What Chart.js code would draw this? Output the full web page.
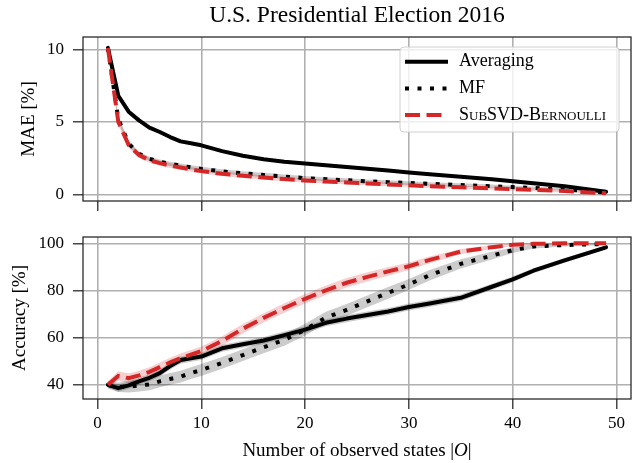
<!DOCTYPE html>
<html>
<head>
<meta charset="utf-8">
<script src="https://cdn.jsdelivr.net/npm/chart.js@4"></script>
<style>
  html, body { margin: 0; padding: 0; background: #fff; }
  #wrap { position: relative; width: 641px; height: 463px; }
  #maeCanvas { position: absolute; left: 0; top: 0; }
  #accCanvas { position: absolute; left: 0; top: 215px; }
</style>
</head>
<body>
<div id="wrap">
  <canvas id="maeCanvas" width="641" height="215"></canvas>
  <canvas id="accCanvas" width="641" height="248"></canvas>
</div>
<script>
// Number of observed states |O|
const observed = [1,2,3,4,5,6,7,8,9,10,12,14,16,18,20,22,24,26,28,30,32,35,38,40,42,45,49];

// Mean absolute error [%]
const maeAveraging = [10.1,6.8,5.7,5.1,4.6,4.3,3.95,3.65,3.52,3.38,2.98,2.66,2.42,2.25,2.12,2.0,1.88,1.76,1.64,1.5,1.39,1.22,1.04,0.9,0.76,0.55,0.18];
const maeMF        = [10.1,5.2,3.5,2.8,2.45,2.25,2.1,1.98,1.86,1.75,1.58,1.45,1.33,1.22,1.12,1.04,0.97,0.9,0.84,0.78,0.72,0.64,0.56,0.5,0.44,0.34,0.12];
const maeSubSVD    = [10.1,5.0,3.4,2.7,2.35,2.15,1.98,1.85,1.72,1.6,1.42,1.28,1.16,1.05,0.95,0.88,0.82,0.75,0.68,0.62,0.56,0.48,0.41,0.36,0.31,0.23,0.07];
const maeAveragingSpread = [0.2,0.15,0.12,0.12,0.1,0.1,0.1,0.1,0.1,0.1,0.1,0.1,0.1,0.1,0.1,0.1,0.1,0.1,0.1,0.1,0.1,0.1,0.1,0.08,0.08,0.06,0.05];
const maeMFSpread        = [0.25,0.2,0.18,0.15,0.15,0.15,0.15,0.15,0.15,0.15,0.15,0.15,0.15,0.15,0.14,0.14,0.14,0.13,0.13,0.13,0.12,0.12,0.11,0.1,0.1,0.08,0.05];
const maeSubSVDSpread    = [0.3,0.25,0.2,0.18,0.17,0.16,0.16,0.16,0.16,0.15,0.15,0.15,0.15,0.14,0.14,0.14,0.13,0.13,0.13,0.12,0.12,0.11,0.1,0.1,0.09,0.08,0.05];

// Accuracy [%]
const accAveraging = [40,38.6,39.8,41.5,43,45,48,50.5,51.3,52,55.5,57.2,58.8,61.1,63.4,66.3,68.1,69.6,71.1,73,74.5,76.9,81.6,84.7,88.4,92.8,98.3];
const accMF        = [40,39,39.3,39.7,40.2,41.5,42.5,43.5,45,46.3,49.3,52.6,55.9,59.1,63.4,68.5,71.8,75.4,79,82.6,86.5,91.3,94.8,97.1,98.7,99.3,99.7];
const accSubSVD    = [40,43.8,42.8,44,45.5,47.5,49.5,51.3,52.8,54.3,58.6,63.8,68.4,72.6,76.5,80.1,83.3,85.8,88.1,90.3,93,96.5,98.4,99.4,99.8,100,100];
const accAveragingSpread = [1.2,1.5,1.5,1.5,1.5,1.5,1.5,1.5,1.5,1.5,1.5,1.5,1.5,1.5,1.5,1.5,1.5,1.5,1.5,1.5,1.5,1.4,1.3,1.2,1.1,1,0.8];
const accMFSpread        = [1.5,2,2.5,2.5,2.5,2.5,2.5,2.5,2.5,2.5,2.5,2.5,2.5,2.5,2.5,2.5,2.5,2.5,2.5,2.3,2.2,2,1.6,1.2,0.9,0.6,0.4];
const accSubSVDSpread    = [1.5,2,2,2,2,2,2,2,2,2,2,2,2,2,2,2,2,2,1.8,1.6,1.4,1.1,0.8,0.5,0.4,0.3,0.2];

// Tick labels
const xTicks = [0, 10, 20, 30, 40, 50];
const maeTicks = [0, 5, 10];
const accTicks = [40, 60, 80, 100];

const seriesNames = ['Averaging', 'MF', 'SubSVD-Bernoulli'];
const chartTitle = 'U.S. Presidential Election 2016';
const xAxisTitle = ['Number of observed states |', 'O', '|'];

const FONT = '"Liberation Serif", "Times New Roman", serif';
const RED = '#d62728';
const GREY_BAND = 'rgba(0,0,0,0.2)';
const RED_BAND = 'rgba(214,39,40,0.22)';

Chart.defaults.font.family = FONT;
Chart.defaults.color = '#000';

const points = ys => observed.map((x, i) => ({ x, y: ys[i] }));

function bandPair(ys, spread, color) {
  return [
    { data: observed.map((x, i) => ({ x, y: ys[i] + spread[i] })), borderWidth: 0, pointRadius: 0, fill: false, order: 10 },
    { data: observed.map((x, i) => ({ x, y: ys[i] - spread[i] })), borderWidth: 0, pointRadius: 0, fill: '-1', backgroundColor: color, order: 10 }
  ];
}

function buildDatasets(avg, mf, sub, avgS, mfS, subS) {
  return [
    { label: seriesNames[0], data: points(avg), borderColor: '#000', borderWidth: 4, borderJoinStyle: 'round', borderCapStyle: 'round', pointRadius: 0, fill: false, order: 3 },
    { label: seriesNames[1], data: points(mf), borderColor: '#000', borderWidth: 4, borderDash: [4, 8.5], borderCapStyle: 'butt', pointRadius: 0, fill: false, order: 2 },
    { label: seriesNames[2], data: points(sub), borderColor: RED, borderWidth: 4, borderDash: [15, 6.5], borderCapStyle: 'butt', smallCaps: true, pointRadius: 0, fill: false, order: 1 },
    ...bandPair(avg, avgS, GREY_BAND),
    ...bandPair(mf, mfS, GREY_BAND),
    ...bandPair(sub, subS, RED_BAND)
  ];
}

const gridStyle = { color: '#b0b0b0', lineWidth: 1.6, tickLength: 10, tickColor: '#222', tickWidth: 1.25 };

function xScale(showLabels) {
  return {
    type: 'linear', min: -1.4, max: 51.4,
    afterBuildTicks: s => { s.ticks = xTicks.map(v => ({ value: v })); },
    ticks: { display: showLabels, padding: 4, font: { size: 17 }, color: '#000', callback: v => String(v) },
    grid: gridStyle,
    border: { display: false },
    afterFit: s => { s.height = showLabels ? 64 : 14; s.paddingLeft = 0; s.paddingRight = 0; }
  };
}

function yScale(min, max, ticks, title, titlePad) {
  return {
    type: 'linear', min, max,
    afterBuildTicks: s => { s.ticks = ticks.map(v => ({ value: v })); },
    ticks: { padding: 9, font: { size: 17 }, color: '#000', callback: v => String(v) },
    grid: gridStyle,
    border: { display: false },
    title: { display: true, text: title, font: { size: 19 }, color: '#000', padding: { top: titlePad, bottom: 0 } },
    afterFit: s => { s.width = 83; s.paddingTop = 0; s.paddingBottom = 0; }
  };
}

// Axes frame on all four sides
const framePlugin = {
  id: 'frame',
  afterDatasetsDraw(chart) {
    const { ctx, chartArea: a } = chart;
    ctx.save();
    ctx.strokeStyle = '#222';
    ctx.lineWidth = 1.25;
    ctx.strokeRect(a.left, a.top, a.right - a.left, a.bottom - a.top);
    ctx.restore();
  }
};

// Boxed legend inside the upper-right corner of the MAE panel
const boxLegendPlugin = {
  id: 'boxLegend',
  afterDraw(chart) {
    const { ctx, chartArea: a } = chart;
    const items = chart.data.datasets.filter(d => d.label);
    const w = 219, h = 85;
    const x = a.right - 12 - w, y = a.top + 10;
    ctx.save();
    ctx.beginPath();
    ctx.roundRect(x, y, w, h, 4);
    ctx.fillStyle = 'rgba(255,255,255,0.8)';
    ctx.fill();
    ctx.strokeStyle = '#d0d0d0';
    ctx.lineWidth = 1;
    ctx.stroke();
    items.forEach((d, i) => {
      const cy = y + 14.7 + i * 26.7;
      ctx.beginPath();
      ctx.setLineDash(d.borderDash || []);
      ctx.lineCap = 'butt';
      ctx.strokeStyle = d.borderColor;
      ctx.lineWidth = d.borderWidth;
      ctx.moveTo(x + 5, cy);
      ctx.lineTo(x + 48, cy);
      ctx.stroke();
      ctx.setLineDash([]);
      ctx.font = (d.smallCaps ? 'small-caps ' : '') + '18px ' + FONT;
      ctx.fillStyle = '#000';
      ctx.textBaseline = 'middle';
      ctx.textAlign = 'left';
      ctx.fillText(d.label, x + 59, cy);
    });
    ctx.restore();
  }
};

// x-axis title with an italic set symbol
const xTitlePlugin = {
  id: 'xTitle',
  afterDraw(chart) {
    const { ctx, chartArea: a } = chart;
    const fonts = ['19px ' + FONT, 'italic 19px ' + FONT, '19px ' + FONT];
    ctx.save();
    let total = 0;
    const widths = xAxisTitle.map((t, i) => { ctx.font = fonts[i]; const w = ctx.measureText(t).width; total += w; return w; });
    let x = (a.left + a.right) / 2 - total / 2;
    const y = a.bottom + 52;
    ctx.fillStyle = '#000';
    ctx.textBaseline = 'middle';
    ctx.textAlign = 'left';
    xAxisTitle.forEach((t, i) => { ctx.font = fonts[i]; ctx.fillText(t, x, y); x += widths[i]; });
    ctx.restore();
  }
};

const common = {
  responsive: false,
  animation: false,
  devicePixelRatio: 1,
  events: [],
  elements: { line: { tension: 0 } }
};

new Chart(document.getElementById('maeCanvas'), {
  type: 'line',
  data: { datasets: buildDatasets(maeAveraging, maeMF, maeSubSVD, maeAveragingSpread, maeMFSpread, maeSubSVDSpread) },
  options: {
    ...common,
    layout: { padding: { left: 0, right: 10, top: 0, bottom: 0 } },
    plugins: {
      legend: { display: false },
      tooltip: { enabled: false },
      filler: { drawTime: 'beforeDatasetsDraw' },
      title: { display: true, text: chartTitle, fullSize: false, color: '#000',
               font: { size: 23.5, weight: 'normal', lineHeight: 1.2 }, padding: { top: 1.5, bottom: 7.3 } }
    },
    scales: { x: xScale(false), y: yScale(-0.46, 10.85, maeTicks, 'MAE [%]', 17.6) }
  },
  plugins: [framePlugin, boxLegendPlugin]
});

new Chart(document.getElementById('accCanvas'), {
  type: 'line',
  data: { datasets: buildDatasets(accAveraging, accMF, accSubSVD, accAveragingSpread, accMFSpread, accSubSVDSpread) },
  options: {
    ...common,
    layout: { padding: { left: 0, right: 10, top: 22, bottom: 0 } },
    plugins: {
      legend: { display: false },
      tooltip: { enabled: false },
      filler: { drawTime: 'beforeDatasetsDraw' }
    },
    scales: { x: xScale(true), y: yScale(34, 102.7, accTicks, 'Accuracy [%]', 8.6) }
  },
  plugins: [framePlugin, xTitlePlugin]
});
</script>
</body>
</html>
